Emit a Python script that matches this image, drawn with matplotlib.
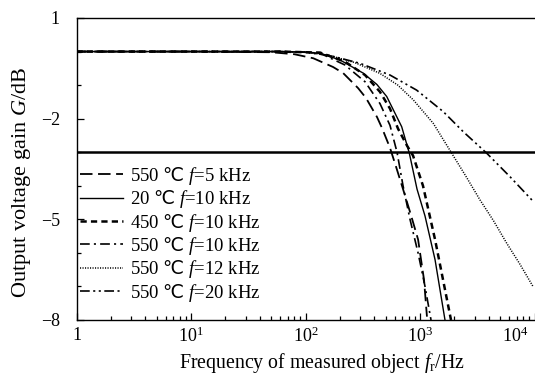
import math
import matplotlib
matplotlib.use("Agg")
import matplotlib.pyplot as plt
from matplotlib.ticker import FixedLocator, NullFormatter

plt.rcParams['font.family'] = ['Liberation Serif', 'DejaVu Serif']
plt.rcParams['mathtext.fontset'] = 'custom'
plt.rcParams['mathtext.rm'] = 'Liberation Serif'
plt.rcParams['mathtext.it'] = 'Liberation Serif:italic'
plt.rcParams['mathtext.sf'] = 'Noto Sans CJK SC'
plt.rcParams['lines.scale_dashes'] = False
plt.rcParams['axes.unicode_minus'] = True

# ---- data ----
DEG = "$\\mathsf{\u2103}$"
labels = ["550 " + DEG + " $f$=5 kHz", "20 " + DEG + " $f$=10 kHz", "450 " + DEG + " $f$=10 kHz",
          "550 " + DEG + " $f$=10 kHz", "550 " + DEG + " $f$=12 kHz", "550 " + DEG + " $f$=20 kHz"]

f_550_5k = [1, 10, 50, 80, 117, 174, 213, 288, 337, 421, 466, 547, 620, 711, 830, 962, 1084, 1150]
g_550_5k = [0, 0, -0.02, -0.08, -0.2, -0.46, -0.64, -1.09, -1.38, -1.95, -2.28, -2.87, -3.45, -4.1, -4.85, -5.6, -6.8, -7.9]

f_20_10k = [1, 10, 60, 100, 134, 200, 318, 420, 512, 692, 807, 942, 1106, 1353, 1653]
g_20_10k = [0, 0, 0, -0.02, -0.05, -0.25, -0.64, -0.98, -1.34, -2.24, -3.03, -4.1, -4.9, -6.2, -8.0]

f_450_10k = [1, 10, 60, 100, 134, 221, 331, 447, 547, 643, 769, 869, 1062, 1353, 1722, 1866]
g_450_10k = [0, 0, 0, -0.02, -0.03, -0.3, -0.7, -1.2, -1.7, -2.3, -2.8, -3.1, -4.0, -5.6, -7.4, -8.0]

f_550_10k = [1, 10, 60, 100, 134, 221, 331, 447, 547, 630, 711, 818, 962, 1106, 1248]
g_550_10k = [0, 0, 0, -0.02, -0.05, -0.4, -0.9, -1.55, -2.2, -3.0, -4.0, -5.0, -6.0, -7.0, -8.0]

f_550_12k = [1, 10, 60, 100, 164, 270, 447, 640, 874, 1306, 1892, 2500, 3340, 4400, 5714, 7500, 9700]
g_550_12k = [0, 0, 0, -0.02, -0.12, -0.33, -0.65, -1.0, -1.44, -2.14, -3.03, -3.7, -4.42, -5.05, -5.71, -6.35, -7.0]

f_550_20k = [1, 10, 60, 100, 164, 299, 547, 935, 1596, 2388, 3828, 6109, 9772]
g_550_20k = [0, 0, 0, -0.02, -0.12, -0.35, -0.70, -1.15, -1.79, -2.39, -3.03, -3.73, -4.47]

ref_level = -3.0

x_major = [1, 10, 100, 1000, 10000]
x_major_labels = ["1", "$10^1$", "$10^2$", "$10^3$", ""]
y_major = [1, -2, -5, -8]
y_major_labels = ["1", "\u22122", "\u22125", "\u22128"]

series = [(f_550_5k, g_550_5k), (f_20_10k, g_20_10k), (f_450_10k, g_450_10k),
          (f_550_10k, g_550_10k), (f_550_12k, g_550_12k), (f_550_20k, g_550_20k)]
styles = [dict(ls=(0, (9, 4)), lw=1.3),
          dict(ls='-', lw=1.0),
          dict(ls=(0, (4.5, 3)), lw=1.8),
          dict(ls=(0, (7, 3, 1.5, 3)), lw=1.2),
          dict(ls=(0, (0.8, 1.0)), lw=1.1),
          dict(ls=(0, (7, 2.5, 1.5, 2.5, 1.5, 2.5)), lw=1.2)]

W, H = 535, 378
fig = plt.figure(figsize=(W / 100, H / 100), dpi=100)
left_px, bottom_px, top_px = 76.5, 320, 18
dec = 114.5
xmax = 1.2e4
right_px = left_px + dec * math.log10(xmax)
ax = fig.add_axes([left_px / W, (H - bottom_px) / H, (right_px - left_px) / W, (bottom_px - top_px) / H])

for (f, g), lab, st in zip(series, labels, styles):
    ax.plot(f, g, color='black', label=lab, **st)

ax.axhline(ref_level, color='black', lw=1.8)

ax.set_xscale('log')
ax.set_xlim(1, xmax)
ax.set_ylim(-8, 1)

ax.xaxis.set_major_locator(FixedLocator(x_major))
ax.set_xticklabels(x_major_labels)
ax.xaxis.set_minor_locator(FixedLocator([m * 10 ** d for d in range(0, 5) for m in range(2, 10)]))
ax.xaxis.set_minor_formatter(NullFormatter())
ax.set_yticks(y_major)
ax.set_yticklabels(y_major_labels)
ax.yaxis.set_minor_locator(FixedLocator([0, -1, -3, -4, -6, -7]))

ax.tick_params(which='both', direction='in', top=False, right=False, labelsize=13, width=0.9)
ax.tick_params(axis='x', which='major', length=5, pad=5)
ax.tick_params(axis='y', which='major', length=5, pad=12)
ax.tick_params(which='minor', length=3)
ax.spines['right'].set_visible(False)
for s in ['left', 'top', 'bottom']:
    ax.spines[s].set_linewidth(1.0)

ax.annotate("$10^4$", xy=(1e4, 0), xycoords=('data', 'axes fraction'),
            xytext=(-14, -5.0), textcoords='offset points', ha='center', va='top', fontsize=13)

ax.set_xlabel("Frequency of measured object $f_\\mathrm{r}$/Hz", fontsize=14.3)
ax.xaxis.set_label_coords((322 - left_px) / (right_px - left_px), -(351 - bottom_px) / (bottom_px - top_px))
ax.set_ylabel("Output voltage gain $G$/dB", fontsize=16)
ax.yaxis.set_label_coords(-(left_px - 33) / (right_px - left_px), (bottom_px - 182) / (bottom_px - top_px))

leg = ax.legend(loc='upper left', bbox_to_anchor=(80 / W, 1 - 165 / H), bbox_transform=fig.transFigure,
                frameon=False, fontsize=13.5, handlelength=2.3, handletextpad=0.35,
                labelspacing=0.07, borderpad=0, borderaxespad=0)

fig.savefig("out.png", dpi=100)
